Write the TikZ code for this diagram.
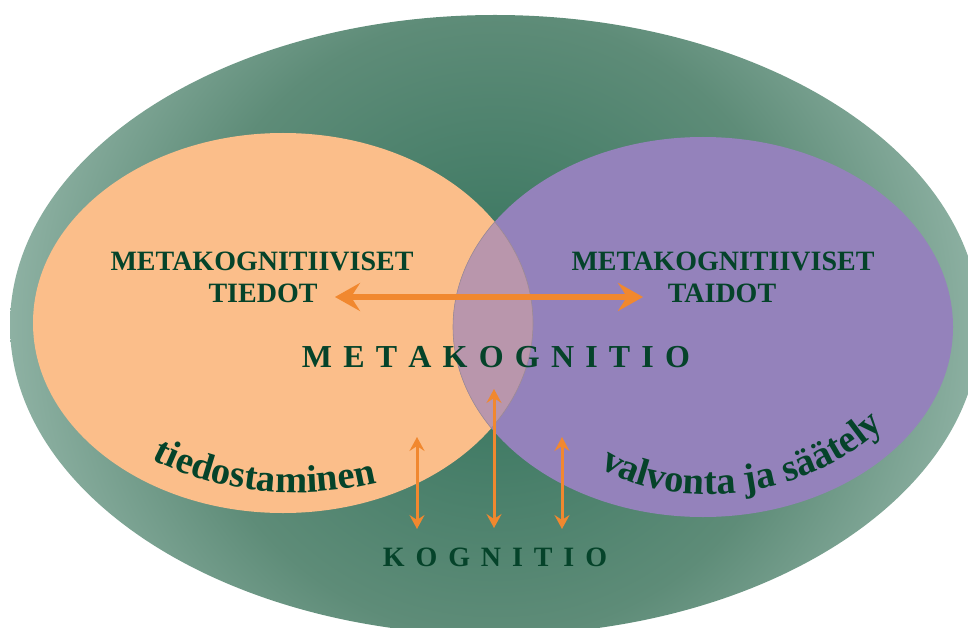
\documentclass[tikz,border=0pt]{standalone}
\usepackage{fontspec}
\setmainfont{Liberation Serif}
\usetikzlibrary{arrows.meta,decorations.text}
\definecolor{gdark}{HTML}{3E7963}
\definecolor{gmid}{HTML}{5E8C78}
\definecolor{glight}{HTML}{8FB2A4}
\definecolor{orng}{HTML}{FBBE8A}
\definecolor{purp}{HTML}{9482BB}
\definecolor{lens}{HTML}{B996AC}
\definecolor{lensline}{HTML}{9C8A94}
\definecolor{tgreen}{HTML}{05432A}
\definecolor{arr}{HTML}{F1882F}
\pgfdeclareradialshading{greenglow}{\pgfpoint{0bp}{0bp}}{color(0bp)=(gdark); color(4bp)=(gdark); color(15.5bp)=(gmid); color(24.5bp)=(glight); color(50bp)=(glight)}
\newcommand\lsp{\hspace{11.2pt}}
\newcommand\lsq{\hspace{10.9pt}}
\newcommand\capsfont{\fontsize{28}{30}\selectfont\bfseries}
\newcommand\bigcapsfont{\fontsize{32}{34}\selectfont\bfseries}
\newcommand\kogfont{\fontsize{28}{30}\selectfont\bfseries}
\newcommand\curvefont{\fontsize{38.5}{40}\selectfont\bfseries}
\begin{document}
\begin{tikzpicture}[x=1pt,y=-1pt,
  label/.style={text=tgreen, inner sep=0pt, anchor=base},
  bigarrow/.style={draw=arr, line width=6.5pt, >={Stealth[length=25pt,width=28pt,inset=9pt]}, <->},
  smallarrow/.style={draw=arr, line width=3pt, >={Stealth[length=14pt,width=15pt,inset=5pt]}, <->}]
\useasboundingbox (0,0) rectangle (968,628);
\clip (0,0) rectangle (968,628);
% outer green ellipse
\begin{scope}
  \clip (495,325) ellipse [x radius=485, y radius=310];
  \shade[shading=greenglow] (495,325) circle [radius=500];
\end{scope}
% two ellipses
\fill[orng] (283,323) ellipse [x radius=250, y radius=190];
\fill[purp] (703,327) ellipse [x radius=250, y radius=190];
\begin{scope}
  \clip (283,323) ellipse [x radius=250, y radius=190];
  \fill[lens, draw=lensline, line width=0.6pt] (703,327) ellipse [x radius=250, y radius=190];
\end{scope}
\begin{scope}
  \clip (703,327) ellipse [x radius=250, y radius=190];
  \draw[lensline, line width=0.6pt] (283,323) ellipse [x radius=250, y radius=190];
\end{scope}
% labels
\node[label, font=\capsfont] (lt1) at (262,270) {METAKOGNITIIVISET};
\node[label, font=\capsfont] (lt2) at (263,302) {TIEDOT};
\node[label, font=\capsfont] (rt1) at (723,270) {METAKOGNITIIVISET};
\node[label, font=\capsfont] (rt2) at (722,302) {TAIDOT};
\node[label, font=\bigcapsfont] (meta) at (496,367) {M\lsp E\lsp T\lsp A\lsp K\lsp O\lsp G\lsp N\lsp I\lsp T\lsp I\lsp O};
\node[label, font=\kogfont] (kog) at (495,566) {K\lsq O\lsq G\lsq N\lsq I\lsq T\lsq I\lsq O};
% arrows
\coordinate (hl) at (335,297);
\coordinate (hr) at (643,297);
\draw[bigarrow] (hl) -- (hr);
\coordinate (a1t) at (417,437);
\coordinate (a1b) at (417,529);
\coordinate (a2t) at (494,389);
\coordinate (a2b) at (494,528);
\coordinate (a3t) at (562,437);
\coordinate (a3b) at (562,529);
\draw[smallarrow] (a1t) -- (a1b);
\draw[smallarrow] (a2t) -- (a2b);
\draw[smallarrow] (a3t) -- (a3b);
% curved texts
\path[decorate, decoration={text along path, text align=left, text color=tgreen,
  text={|\curvefont|tiedostaminen}}]
  (152,459) .. controls (215,492) and (300,502) .. (380,482);
\path[decorate, decoration={text along path, text align=left, text color=tgreen,
  text={|\curvefont|valvonta ja säätely}}]
  (600,467) .. controls (660,508) and (800,510) .. (888,423);
\end{tikzpicture}
\end{document}
